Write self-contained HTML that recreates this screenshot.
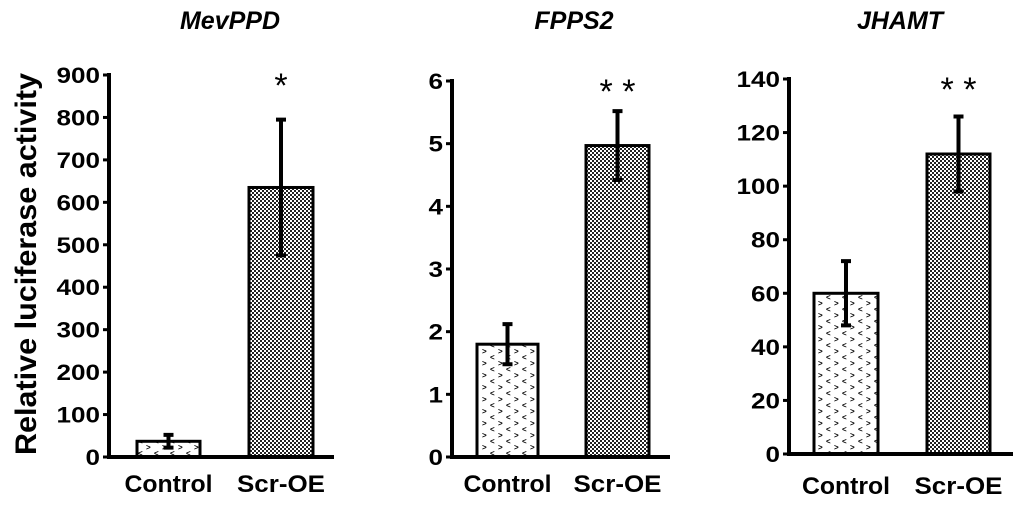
<!DOCTYPE html>
<html><head><meta charset="utf-8"><style>
body{margin:0;background:#fff;width:1024px;height:505px;overflow:hidden}
svg text{font-family:"Liberation Sans",Arial,sans-serif;font-weight:bold;fill:#000}
</style></head><body>
<svg id="chart" width="1024" height="505" viewBox="0 0 1024 505">
<defs>
<pattern id="checker" width="4" height="4" patternUnits="userSpaceOnUse">
<rect width="4" height="4" fill="#fff"/><rect width="2" height="2" fill="#222"/><rect x="2" y="2" width="2" height="2" fill="#222"/>
</pattern>
<pattern id="dots" width="16" height="12" patternUnits="userSpaceOnUse">
<rect width="16" height="12" fill="#fff"/>
<text x="2" y="6" style="font-size:8px">&gt;</text>
<text x="10" y="12" style="font-size:8px">&lt;</text>
</pattern>
</defs>
<text transform="translate(36,264) rotate(-90)" text-anchor="middle" textLength="382" lengthAdjust="spacingAndGlyphs" style="font-size:30px">Relative luciferase activity</text>
<g id="panels"></g>
</svg>
<script>
const categories = ["Control", "Scr-OE"];
const titles = ["MevPPD", "FPPS2", "JHAMT"];
const meanMev = [37, 635];
const errMev = [15, 160];
const meanFpps = [1.8, 4.97];
const errFpps = [0.32, 0.55];
const meanJhamt = [60, 112];
const errJhamt = [12, 14];
const ticksMev = [0,100,200,300,400,500,600,700,800,900];
const ticksFpps = [0,1,2,3,4,5,6];
const ticksJhamt = [0,20,40,60,80,100,120,140];
const stars = ["*", "* *", "* *"];

const layouts = [
 {ax:109, top:75, zero:457, right:334, bars:[[137,200],[249,313]], lblY:492, titleX:230, means:meanMev, errs:errMev, ticks:ticksMev},
 {ax:452, top:81, zero:457, right:670, bars:[[477,538],[586,649]], lblY:492, titleX:574, means:meanFpps, errs:errFpps, ticks:ticksFpps},
 {ax:789, top:79, zero:454, right:1013, bars:[[814,878],[927,990]], lblY:494, titleX:900, means:meanJhamt, errs:errJhamt, ticks:ticksJhamt}
];
const NS = "http://www.w3.org/2000/svg";
const root = document.getElementById('panels');
function mk(tag, attrs, parent){const e=document.createElementNS(NS,tag);for(const k in attrs)e.setAttribute(k,attrs[k]);parent.appendChild(e);return e;}
layouts.forEach((L,pi)=>{
 const g = mk('g',{},root);
 
 
 const max = L.ticks[L.ticks.length-1];
 const y = v => L.zero - (v/max)*(L.zero-L.top);
 const t = mk('text',{x:L.titleX,y:29,'text-anchor':'middle','font-style':'italic',style:'font-size:25px'},g);
 t.textContent = titles[pi];
 
 
 L.ticks.forEach(v=>{
  const tk = mk('line',{x1:L.ax-6,x2:L.ax,y1:y(v),y2:y(v),stroke:'#000','stroke-width':3},g);
  
  
  const s = String(v);
  const tl = mk('text',{x:L.ax-9,y:y(v)+8,'text-anchor':'end',textLength:s.length*14.5,lengthAdjust:'spacingAndGlyphs',style:'font-size:22px'},g);
  tl.textContent = s;
  
  
 });
 categories.forEach((c,i)=>{
  const [x0,x1] = L.bars[i];
  const yt = y(L.means[i]);
  const b = mk('rect',{x:x0,y:yt,width:x1-x0,height:L.zero-yt,fill:i?'url(#checker)':'url(#dots)',stroke:'#000','stroke-width':3},g);
  
  
  const cx = (x0+x1)/2;
  const e = mk('path',{d:`M${cx} ${y(L.means[i]+L.errs[i])}V${y(L.means[i]-L.errs[i])}M${cx-5} ${y(L.means[i]+L.errs[i])}H${cx+5}M${cx-5} ${y(L.means[i]-L.errs[i])}H${cx+5}`,stroke:'#000','stroke-width':4,fill:'none'},g);
  
  
  const cl = mk('text',{x:cx,y:L.lblY,'text-anchor':'middle',textLength:88,lengthAdjust:'spacingAndGlyphs',style:'font-size:24px'},g);
  cl.textContent = c;
  
  
 });
 const sx = (L.bars[1][0]+L.bars[1][1])/2;
 const s = mk('text',{x:sx,y:L.top+22,'text-anchor':'middle',style:'font-size:34px;font-weight:normal'},g);
 s.textContent = stars[pi];
 
 
 const ax = mk('path',{d:`M${L.ax} ${L.top-2}V${L.zero}H${L.right}`,stroke:'#000','stroke-width':4,fill:'none'},g);
 
 
});
</script>
</body></html>
